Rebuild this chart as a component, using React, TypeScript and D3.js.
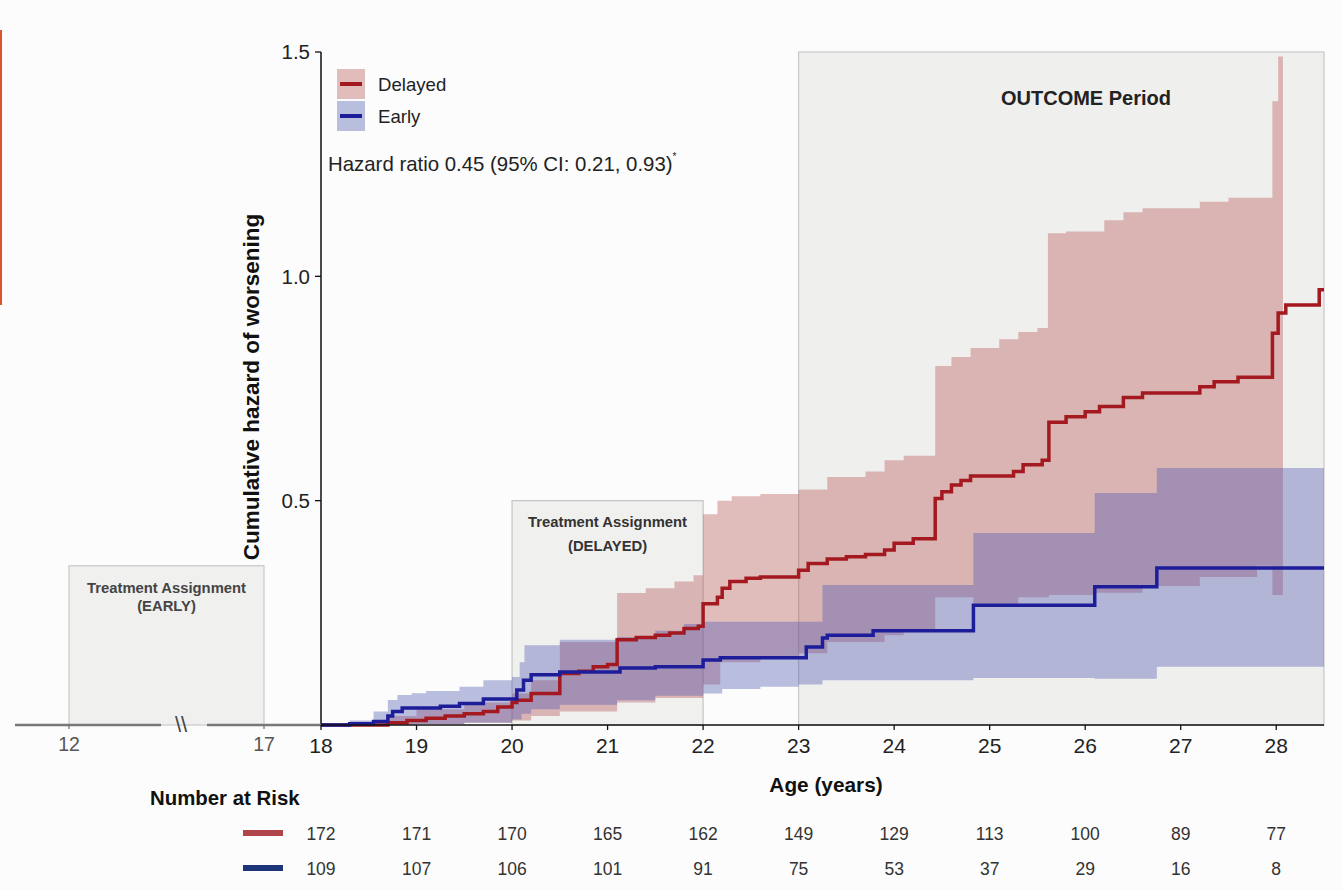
import { useMemo } from 'react';
import * as d3 from 'd3';

// step data: [age, value]
const delayedEst: [number, number][] = [
  [18.0, 0], [18.7, 0.005], [18.9, 0.01], [19.1, 0.015], [19.3, 0.02], [19.5, 0.025],
  [19.7, 0.03], [19.85, 0.04], [20.0, 0.05], [20.05, 0.055], [20.2, 0.07], [20.5, 0.115],
  [20.7, 0.12], [20.85, 0.13], [21.0, 0.135], [21.1, 0.19], [21.3, 0.195], [21.5, 0.2],
  [21.65, 0.205], [21.8, 0.215], [21.95, 0.22], [22.0, 0.27], [22.15, 0.285], [22.2, 0.305],
  [22.28, 0.32], [22.45, 0.327], [22.6, 0.33], [23.0, 0.345], [23.1, 0.36], [23.3, 0.37],
  [23.5, 0.375], [23.7, 0.38], [23.9, 0.39], [24.0, 0.405], [24.2, 0.415], [24.43, 0.505],
  [24.5, 0.52], [24.6, 0.535], [24.7, 0.545], [24.8, 0.555], [25.25, 0.565], [25.35, 0.58],
  [25.55, 0.59], [25.62, 0.675], [25.8, 0.687], [26.0, 0.698], [26.15, 0.71], [26.4, 0.73],
  [26.6, 0.74], [27.2, 0.754], [27.35, 0.765], [27.6, 0.775], [27.96, 0.873], [28.02, 0.918],
  [28.1, 0.936], [28.45, 0.97], [28.5, 0.97],
];

const delayedUpper: [number, number][] = [
  [18.0, 0], [18.7, 0.02], [19.0, 0.035], [19.5, 0.05], [20.0, 0.07], [20.2, 0.1],
  [20.5, 0.185], [21.1, 0.294], [21.4, 0.305], [21.7, 0.32], [21.9, 0.334], [22.0, 0.47],
  [22.15, 0.5], [22.3, 0.51], [22.6, 0.515], [23.0, 0.525], [23.3, 0.553], [23.7, 0.565],
  [23.9, 0.59], [24.1, 0.6], [24.43, 0.8], [24.6, 0.82], [24.8, 0.84], [25.1, 0.86],
  [25.3, 0.876], [25.5, 0.885], [25.61, 1.096], [25.8, 1.1], [26.2, 1.125], [26.4, 1.143],
  [26.6, 1.152], [27.2, 1.166], [27.5, 1.175], [27.96, 1.39], [28.02, 1.49], [28.07, 1.49],
];

const delayedLower: [number, number][] = [
  [18.0, 0], [19.0, 0.002], [19.5, 0.005], [20.0, 0.01], [20.2, 0.02], [20.5, 0.03],
  [21.1, 0.05], [21.5, 0.06], [22.0, 0.09], [22.18, 0.14], [22.6, 0.15], [23.0, 0.16],
  [23.3, 0.185], [23.9, 0.2], [24.1, 0.21], [24.43, 0.285], [24.83, 0.27], [25.3, 0.285],
  [25.62, 0.29], [26.1, 0.295], [26.6, 0.31], [27.2, 0.33], [27.8, 0.355], [27.96, 0.29],
  [28.07, 0.29],
];

const earlyEst: [number, number][] = [
  [18.0, 0], [18.3, 0.003], [18.55, 0.008], [18.7, 0.02], [18.75, 0.03], [18.85, 0.038],
  [19.25, 0.042], [19.45, 0.048], [19.7, 0.058], [20.05, 0.078], [20.12, 0.1], [20.2, 0.112],
  [20.5, 0.118], [21.13, 0.127], [21.5, 0.13], [22.0, 0.145], [22.18, 0.15], [23.08, 0.174],
  [23.25, 0.194], [23.3, 0.2], [23.78, 0.21], [24.83, 0.267], [26.1, 0.308], [26.75, 0.35],
  [28.5, 0.35],
];

const earlyUpper: [number, number][] = [
  [18.0, 0], [18.3, 0.01], [18.55, 0.03], [18.7, 0.056], [18.8, 0.067], [18.95, 0.071],
  [19.1, 0.076], [19.45, 0.085], [19.7, 0.1], [20.0, 0.107], [20.08, 0.14], [20.13, 0.178],
  [20.5, 0.19], [21.1, 0.196], [21.5, 0.21], [21.8, 0.225], [22.0, 0.23], [23.25, 0.312],
  [24.83, 0.428], [26.1, 0.517], [26.75, 0.573], [28.5, 0.573],
];

const earlyLower: [number, number][] = [
  [18.0, 0], [18.7, 0.002], [19.5, 0.005], [20.0, 0.012], [20.1, 0.025], [20.2, 0.035],
  [20.5, 0.045], [21.1, 0.055], [21.5, 0.065], [22.0, 0.07], [22.2, 0.08], [22.6, 0.085],
  [23.0, 0.09], [23.25, 0.1], [24.83, 0.105], [26.1, 0.103], [26.75, 0.13], [28.5, 0.13],
];

const xTickValues = [18, 19, 20, 21, 22, 23, 24, 25, 26, 27, 28];
const yTickValues = [0.5, 1.0, 1.5];
const riskDelayed = [172, 171, 170, 165, 162, 149, 129, 113, 100, 89, 77];
const riskEarly = [109, 107, 106, 101, 91, 75, 53, 37, 29, 16, 8];

const FONT = '"Liberation Sans", Arial, sans-serif';

// merge two step series onto common breakpoints for a band
const band = (lo: [number, number][], hi: [number, number][]) => {
  const xs = Array.from(new Set([...lo.map(d => d[0]), ...hi.map(d => d[0])])).sort((a, b) => a - b);
  const end = Math.min(lo[lo.length - 1][0], hi[hi.length - 1][0]);
  const val = (s: [number, number][], x: number) => {
    let v = s[0][1];
    for (const d of s) if (d[0] <= x) v = d[1];
    return v;
  };
  return xs.filter(x => x <= end).map(x => ({ x, lo: val(lo, x), hi: val(hi, x) }));
};

const App = () => {
  const x = useMemo(() => d3.scaleLinear().domain([18, 28.5]).range([321, 1324]), []);
  const xLeft = useMemo(() => d3.scaleLinear().domain([12, 17]).range([69, 264]), []);
  const y = useMemo(() => d3.scaleLinear().domain([0, 1.5]).range([725, 52]), []);

  const area = d3.area<{ x: number; lo: number; hi: number }>()
    .x(d => x(d.x)).y0(d => y(d.lo)).y1(d => y(d.hi)).curve(d3.curveStepAfter);
  const line = d3.line<[number, number]>()
    .x(d => x(d[0])).y(d => y(d[1])).curve(d3.curveStepAfter);

  const redBand = area(band(delayedLower, delayedUpper)) || undefined;
  const blueBand = area(band(earlyLower, earlyUpper)) || undefined;

  return (
    <svg width={1343} height={890} style={{ position: 'absolute', left: 0, top: 0 }}>
      <rect width={1343} height={890} fill="#fbfcfb" />
      <rect x={0} y={30} width={2} height={275} fill="#d9552e" />

      {/* shaded periods */}
      <rect x={x(23)} y={y(1.5)} width={x(28.5) - x(23)} height={y(0) - y(1.5)} fill="#efefee" stroke="#c9c9c9" strokeWidth={1.2} />
      <rect x={x(20)} y={y(0.5)} width={x(22) - x(20)} height={y(0) - y(0.5)} fill="#f0f0ef" stroke="#c4c4c4" strokeWidth={1.2} />
      <rect x={xLeft(12)} y={y(0.355)} width={xLeft(17) - xLeft(12)} height={y(0) - y(0.355)} fill="#f0f0ef" stroke="#c8c8c8" strokeWidth={1.2} />

      <text x={1086} y={105} textAnchor="middle" fontFamily={FONT} fontWeight="bold" fontSize={20} fill="#222">OUTCOME Period</text>
      <text x={(x(20) + x(22)) / 2} y={527} textAnchor="middle" fontFamily={FONT} fontWeight="bold" fontSize={14.8} fill="#333">Treatment Assignment</text>
      <text x={(x(20) + x(22)) / 2} y={551} textAnchor="middle" fontFamily={FONT} fontWeight="bold" fontSize={14.8} fill="#333">(DELAYED)</text>
      <text x={(xLeft(12) + xLeft(17)) / 2} y={593} textAnchor="middle" fontFamily={FONT} fontWeight="bold" fontSize={14.8} fill="#444">Treatment Assignment</text>
      <text x={(xLeft(12) + xLeft(17)) / 2} y={611} textAnchor="middle" fontFamily={FONT} fontWeight="bold" fontSize={14.8} fill="#444">(EARLY)</text>

      {/* confidence bands */}
      <path d={redBand} fill="#b24a4a" fillOpacity={0.36} />
      <path d={blueBand} fill="#4f56b0" fillOpacity={0.38} />

      {/* estimates */}
      <path d={line(delayedEst) || undefined} fill="none" stroke="#a3191f" strokeWidth={3.5} />
      <path d={line(earlyEst) || undefined} fill="none" stroke="#1d1d9a" strokeWidth={3.5} />

      {/* axes */}
      <line x1={x(18)} y1={y(0)} x2={x(28.5)} y2={y(0)} stroke="#111" strokeWidth={1.5} />
      <line x1={x(18)} y1={y(0)} x2={x(18)} y2={y(1.5)} stroke="#111" strokeWidth={1.5} />
      <line x1={15} y1={y(0)} x2={161} y2={y(0)} stroke="#777" strokeWidth={2.5} />
      <line x1={207} y1={y(0)} x2={x(18)} y2={y(0)} stroke="#777" strokeWidth={2.5} />
      <text x={181} y={y(0) + 7} textAnchor="middle" fontFamily={FONT} fontSize={22} fill="#444">\\</text>

      {xTickValues.map(v => (
        <g key={v} transform={`translate(${x(v)},${y(0)})`}>
          <line y2={5} stroke="#111" strokeWidth={1.3} />
          <text y={28} textAnchor="middle" fontFamily={FONT} fontSize={21} fill="#222">{v}</text>
        </g>
      ))}
      {[12, 17].map(v => (
        <g key={v} transform={`translate(${xLeft(v)},${y(0)})`}>
          <line y2={4} stroke="#777" strokeWidth={1.3} />
          <text y={26} textAnchor="middle" fontFamily={FONT} fontSize={19.5} fill="#555">{v}</text>
        </g>
      ))}
      {yTickValues.map(v => (
        <g key={v} transform={`translate(${x(18)},${y(v)})`}>
          <line x2={-6} stroke="#111" strokeWidth={1.3} />
          <text x={-11} dy="0.35em" textAnchor="end" fontFamily={FONT} fontSize={20.5} fill="#222">{v.toFixed(1)}</text>
        </g>
      ))}

      <text transform={`translate(259,387) rotate(-90)`} textAnchor="middle" fontFamily={FONT} fontWeight="bold" fontSize={22.5} fill="#111">Cumulative hazard of worsening</text>
      <text x={826} y={792} textAnchor="middle" fontFamily={FONT} fontWeight="bold" fontSize={20.8} fill="#111">Age (years)</text>

      {/* legend */}
      <rect x={337} y={69} width={28} height={30} fill="#b24a4a" fillOpacity={0.36} />
      <rect x={337} y={101} width={28} height={30} fill="#4f56b0" fillOpacity={0.38} />
      <line x1={340} x2={362} y1={84} y2={84} stroke="#a3191f" strokeWidth={4} />
      <line x1={340} x2={362} y1={116} y2={116} stroke="#1d1d9a" strokeWidth={4} />
      <text x={378} y={90.5} fontFamily={FONT} fontSize={18.6} fill="#222">Delayed</text>
      <text x={378} y={122.5} fontFamily={FONT} fontSize={18.6} fill="#222">Early</text>
      <text x={328} y={171} fontFamily={FONT} fontSize={20.4} fill="#222">
        Hazard ratio 0.45 (95% CI: 0.21, 0.93)<tspan dy={-11} fontSize={10}>*</tspan>
      </text>

      {/* number at risk */}
      <text x={150} y={805} fontFamily={FONT} fontWeight="bold" fontSize={20.4} fill="#111">Number at Risk</text>
      <line x1={243} x2={283} y1={833} y2={833} stroke="#b0464c" strokeWidth={6} />
      <line x1={243} x2={283} y1={868} y2={868} stroke="#1c3478" strokeWidth={6} />
      {riskDelayed.map((n, i) => (
        <text key={`d${i}`} x={x(xTickValues[i])} y={840} textAnchor="middle" fontFamily={FONT} fontSize={17.5} fill="#333">{n}</text>
      ))}
      {riskEarly.map((n, i) => (
        <text key={`e${i}`} x={x(xTickValues[i])} y={875} textAnchor="middle" fontFamily={FONT} fontSize={17.5} fill="#333">{n}</text>
      ))}
    </svg>
  );
};

export default App;
